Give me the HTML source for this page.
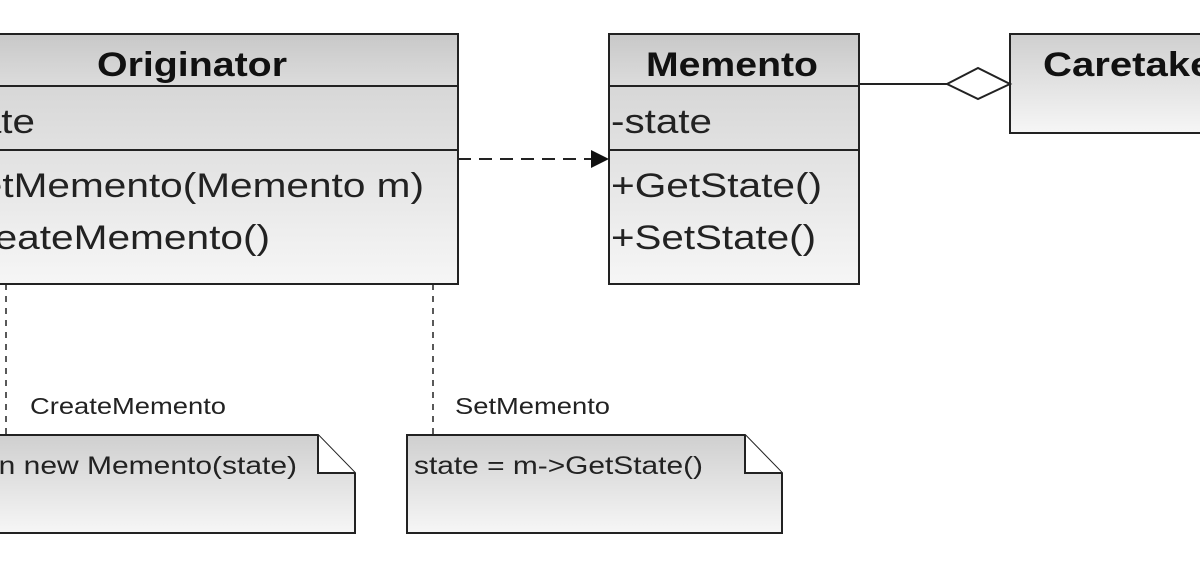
<!DOCTYPE html>
<html><head><meta charset="utf-8"><style>
html,body{margin:0;padding:0;background:#fff;width:1200px;height:565px;overflow:hidden}
svg{display:block;font-family:"Liberation Sans",sans-serif}
</style></head><body>
<svg width="1200" height="565" viewBox="0 0 1200 565">
<defs>
<linearGradient id="g" x1="0" y1="0" x2="0" y2="1"><stop offset="0" stop-color="#cfcfcf"/><stop offset="1" stop-color="#f6f6f6"/></linearGradient>
<linearGradient id="h" x1="0" y1="0" x2="0" y2="1"><stop offset="0" stop-color="#c8c8c8"/><stop offset="1" stop-color="#dcdcdc"/></linearGradient>
</defs>
<!-- Originator -->
<rect x="-10" y="34" width="468" height="250" fill="url(#g)" stroke="#222" stroke-width="2"/>
<rect x="-10" y="34" width="468" height="52" fill="url(#h)" stroke="#222" stroke-width="2"/>
<line x1="-10" y1="150" x2="458" y2="150" stroke="#222" stroke-width="2"/>
<text x="97" y="76" font-size="34" font-weight="bold" fill="#111" textLength="190" lengthAdjust="spacingAndGlyphs">Originator</text>
<text x="-66" y="133" font-size="34" fill="#222" textLength="101" lengthAdjust="spacingAndGlyphs">-state</text>
<text x="-71" y="197" font-size="34" fill="#222" textLength="495" lengthAdjust="spacingAndGlyphs">+SetMemento(Memento m)</text>
<text x="-72" y="249" font-size="34" fill="#222" textLength="342" lengthAdjust="spacingAndGlyphs">+CreateMemento()</text>
<!-- Memento -->
<rect x="609" y="34" width="250" height="250" fill="url(#g)" stroke="#222" stroke-width="2"/>
<rect x="609" y="34" width="250" height="52" fill="url(#h)" stroke="#222" stroke-width="2"/>
<line x1="609" y1="150" x2="859" y2="150" stroke="#222" stroke-width="2"/>
<text x="646" y="76" font-size="34" font-weight="bold" fill="#111" textLength="172" lengthAdjust="spacingAndGlyphs">Memento</text>
<text x="611" y="133" font-size="34" fill="#222" textLength="101" lengthAdjust="spacingAndGlyphs">-state</text>
<text x="611" y="197" font-size="34" fill="#222" textLength="211" lengthAdjust="spacingAndGlyphs">+GetState()</text>
<text x="611" y="249" font-size="34" fill="#222" textLength="205" lengthAdjust="spacingAndGlyphs">+SetState()</text>
<!-- Caretaker -->
<rect x="1010" y="34" width="200" height="99" fill="url(#g)" stroke="#222" stroke-width="2"/>
<text x="1043" y="76" font-size="34" font-weight="bold" fill="#111" textLength="185" lengthAdjust="spacingAndGlyphs">Caretaker</text>
<!-- aggregation -->
<line x1="859" y1="84" x2="947" y2="84" stroke="#222" stroke-width="2"/>
<polygon points="947,84 978,68 1010,84 978,99" fill="#fff" stroke="#222" stroke-width="2"/>
<!-- dependency -->
<line x1="458" y1="159" x2="594" y2="159" stroke="#222" stroke-width="2" stroke-dasharray="13,8"/>
<polygon points="591,150 609,159 591,168" fill="#111"/>
<!-- note links -->
<line x1="6" y1="284" x2="6" y2="435" stroke="#222" stroke-width="1.5" stroke-dasharray="6,6"/>
<line x1="433" y1="284" x2="433" y2="435" stroke="#222" stroke-width="1.5" stroke-dasharray="6,6"/>
<text x="30" y="414" font-size="23" fill="#222" textLength="196" lengthAdjust="spacingAndGlyphs">CreateMemento</text>
<text x="455" y="414" font-size="23" fill="#222" textLength="155" lengthAdjust="spacingAndGlyphs">SetMemento</text>
<!-- notes -->
<polygon points="-10,435 318,435 355,473 355,533 -10,533" fill="url(#g)" stroke="#222" stroke-width="2"/>
<polyline points="318,435 318,473 355,473" fill="#fff" stroke="#222" stroke-width="2"/>
<text x="-63" y="474" font-size="25" fill="#222" textLength="360" lengthAdjust="spacingAndGlyphs">return new Memento(state)</text>
<polygon points="407,435 745,435 782,473 782,533 407,533" fill="url(#g)" stroke="#222" stroke-width="2"/>
<polyline points="745,435 745,473 782,473" fill="#fff" stroke="#222" stroke-width="2"/>
<text x="414" y="474" font-size="25" fill="#222" textLength="289" lengthAdjust="spacingAndGlyphs">state = m-&gt;GetState()</text>
</svg>
</body></html>
